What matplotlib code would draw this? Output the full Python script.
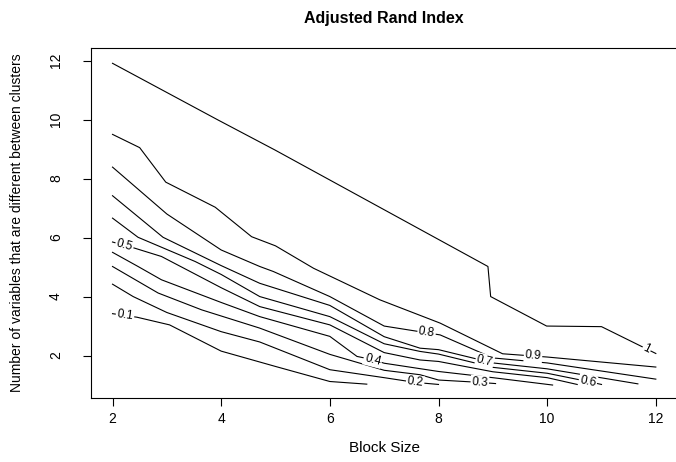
import matplotlib
matplotlib.use("Agg")
import matplotlib.pyplot as plt
import numpy as np

plt.rcParams['font.family'] = ['Liberation Sans', 'DejaVu Sans']

# contour levels of the adjusted Rand index
levels = [0.1, 0.2, 0.3, 0.4, 0.5, 0.6, 0.7, 0.8, 0.9, 1.0]
level_text = ["0.1", "0.2", "0.3", "0.4", "0.5", "0.6", "0.7", "0.8", "0.9", "1"]

# traced contour lines (block size, number of different variables)
c01_x = [2.0, 2.45, 3.05, 4.0, 5.0, 6.0, 6.68]
c01_y = [3.42, 3.30, 3.04, 2.15, 1.63, 1.12, 1.03]
c02_x = [2.0, 2.38, 3.0, 4.0, 4.71, 6.0, 7.0, 7.57, 8.0]
c02_y = [4.42, 4.00, 3.46, 2.81, 2.46, 1.52, 1.25, 1.09, 1.02]
c03_x = [2.0, 2.84, 3.64, 4.71, 6.0, 7.0, 7.66, 8.0, 8.76, 9.05]
c03_y = [5.02, 4.12, 3.55, 2.93, 2.04, 1.50, 1.35, 1.17, 1.09, 1.05]
c04_x = [2.0, 2.47, 2.9, 4.0, 4.71, 6.0, 6.5, 6.79, 7.0, 8.0, 9.0, 10.1]
c04_y = [5.50, 5.02, 4.57, 3.80, 3.32, 2.65, 1.97, 1.86, 1.74, 1.46, 1.25, 1.00]
c05_x = [2.0, 2.41, 2.9, 4.0, 4.71, 6.0, 7.0, 7.66, 8.0, 9.0, 10.0, 10.6]
c05_y = [5.85, 5.64, 5.36, 4.30, 3.66, 3.04, 2.10, 1.85, 1.80, 1.45, 1.25, 1.00]
c06_x = [2.0, 2.47, 3.52, 4.0, 4.71, 6.0, 7.0, 7.66, 8.0, 9.0, 10.0, 10.75, 11.0]
c06_y = [6.66, 6.01, 5.19, 4.75, 4.00, 3.32, 2.40, 2.14, 2.05, 1.60, 1.40, 1.12, 1.02]
c07_x = [2.0, 2.93, 4.0, 4.71, 6.0, 7.0, 7.66, 8.0, 9.0, 10.0, 11.67]
c07_y = [7.42, 6.01, 5.05, 4.45, 3.70, 2.64, 2.25, 2.20, 1.75, 1.55, 1.04]
c08_x = [2.0, 3.0, 4.0, 4.71, 4.96, 6.0, 7.0, 8.03, 9.0, 10.0, 12.0]
c08_y = [8.39, 6.80, 5.58, 5.02, 4.85, 4.00, 3.00, 2.70, 1.92, 1.75, 1.20]
c09_x = [2.0, 2.5, 2.98, 3.89, 4.56, 5.0, 5.7, 6.92, 8.03, 9.18, 10.0, 12.0]
c09_y = [9.50, 9.05, 7.88, 7.03, 6.03, 5.72, 4.96, 3.89, 3.10, 2.06, 1.95, 1.61]
c10_x = [2.0, 3.94, 4.99, 8.91, 8.96, 9.99, 11.0, 12.0]
c10_y = [11.91, 9.99, 8.97, 5.02, 4.00, 3.00, 2.98, 2.07]

contour_x = [c01_x, c02_x, c03_x, c04_x, c05_x, c06_x, c07_x, c08_x, c09_x, c10_x]
contour_y = [c01_y, c02_y, c03_y, c04_y, c05_y, c06_y, c07_y, c08_y, c09_y, c10_y]

fig = plt.figure(figsize=(6.76, 4.62), dpi=100)
ax = fig.add_axes([0.1343, 0.1385, 0.868, 0.7583])
ax.set_xlim(1.6, 12.4)
ax.set_ylim(0.56, 12.44)

for xs, ys in zip(contour_x, contour_y):
    ax.plot(xs, ys, color="black", lw=0.8)

# where along each line the level label sits
label_at = [2.23, 7.57, 8.76, 6.79, 2.22, 10.75, 8.85, 7.78, 9.74, 11.83]

fig.canvas.draw()
for xs, ys, txt, lx in zip(contour_x, contour_y, level_text, label_at):
    ly = np.interp(lx, xs, ys)
    p0 = ax.transData.transform((lx - 0.15, np.interp(lx - 0.15, xs, ys)))
    p1 = ax.transData.transform((lx + 0.15, np.interp(lx + 0.15, xs, ys)))
    ang = np.degrees(np.arctan2(p1[1] - p0[1], p1[0] - p0[0]))
    ax.text(lx, ly, txt, fontsize=8.5, rotation=ang, rotation_mode="anchor",
            ha="center", va="center",
            bbox=dict(fc="white", ec="none", pad=0.8))

ax.set_xticks([2, 4, 6, 8, 10, 12])
ax.set_yticks([2, 4, 6, 8, 10, 12])
ax.tick_params(direction="out", length=6, width=0.8, labelsize=10)
ax.tick_params(axis="x", pad=4)
ax.tick_params(axis="y", pad=14)
for lab in ax.get_yticklabels():
    lab.set_rotation(90)
    lab.set_va("center")
for s in ax.spines.values():
    s.set_linewidth(0.8)

ax.set_title("Adjusted Rand Index", fontsize=11.5, fontweight="bold", pad=18)
ax.set_xlabel("Block Size", fontsize=11, labelpad=11)
ax.set_ylabel("Number of variables that are different between clusters",
              fontsize=10, labelpad=18)

fig.savefig("out.png", dpi=100)
